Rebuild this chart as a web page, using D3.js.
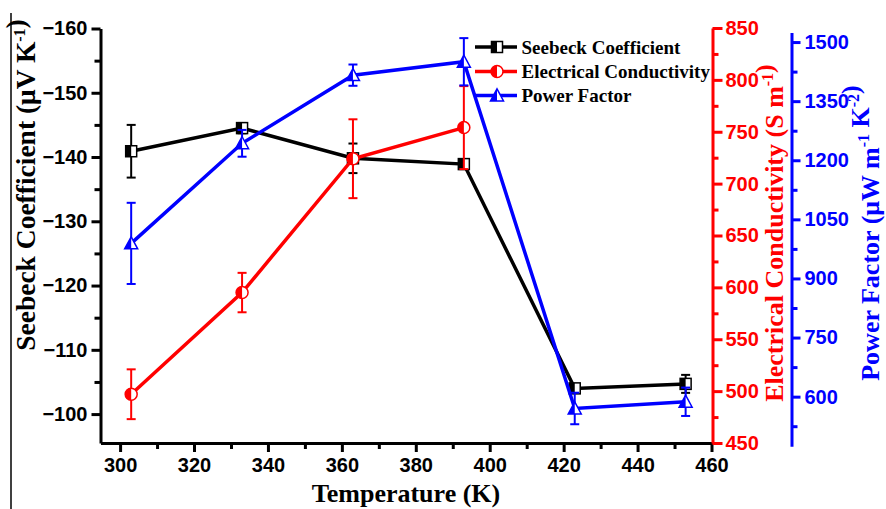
<!DOCTYPE html>
<html><head><meta charset="utf-8">
<script src="https://cdn.jsdelivr.net/npm/d3@7"></script>
<style>
html,body{margin:0;padding:0;background:#fff;}
svg{display:block;}
.tick text{font-family:"Liberation Sans",Arial,sans-serif;font-weight:bold;font-size:20px;}
.title{font-family:"Liberation Serif","Times New Roman",serif;font-weight:bold;font-size:26px;}
.leg{font-family:"Liberation Serif","Times New Roman",serif;font-weight:bold;font-size:19px;}
</style></head>
<body>
<svg id="c" width="886" height="509"></svg>
<script>
// ---- data ----
const temperature = [303, 333, 363, 393, 423, 453];
const seebeck = [-140.9, -144.5, -139.8, -138.9, -104.0, -104.7];
const seebeckErr = [4.1, 0.8, 2.3, 0.6, 0.6, 1.4];
const tempEC = [303, 333, 363, 393];
const conductivity = [497, 595, 724, 754];
const conductivityErr = [24, 19, 38, 40];
const powerFactor = [989, 1243, 1416, 1450, 570, 587];
const powerFactorErr = [103, 34, 27, 60, 40, 36];
const xTicks = [300, 320, 340, 360, 380, 400, 420, 440, 460];
const seebeckTicks = [-160, -150, -140, -130, -120, -110, -100];
const ecTicks = [450, 500, 550, 600, 650, 700, 750, 800, 850];
const pfTicks = [600, 750, 900, 1050, 1200, 1350, 1500];
const legendLabels = ["Seebeck Coefficient", "Electrical Conductivity", "Power Factor"];

const BLACK = "#000000", RED = "#ff0000", BLUE = "#0000ff";
const svg = d3.select("#c");

const x = d3.scaleLinear().domain([294.7, 460]).range([100.5, 711.5]);
const yS = d3.scaleLinear().domain([-160, -95.5]).range([28.5, 443]);
const yE = d3.scaleLinear().domain([850, 450]).range([28, 443]);
const yP = d3.scaleLinear().domain([1524, 474]).range([32.6, 446.3]);
const fmt = d3.format("d");

// stray frame line at far left
svg.append("line").attr("x1", 11).attr("x2", 11).attr("y1", 13).attr("y2", 509)
  .attr("stroke", "#000").attr("stroke-width", 1.5);

function styleAxis(g, color, width) {
  g.selectAll(".domain").attr("stroke", color).attr("stroke-width", width);
  g.selectAll(".tick line").attr("stroke", color).attr("stroke-width", width);
  g.selectAll(".tick text").attr("fill", color);
}

// bottom axis
const minorX = d3.range(310, 460, 20);
svg.append("g").attr("transform", "translate(0,443)")
  .call(d3.axisBottom(x).tickValues(minorX).tickSize(6).tickFormat("").tickSizeOuter(0))
  .call(g => { g.select(".domain").remove(); styleAxis(g, BLACK, 3); });
svg.append("g").attr("transform", "translate(0,443)")
  .call(d3.axisBottom(x).tickValues(xTicks).tickSize(9).tickPadding(4).tickSizeOuter(0).tickFormat(fmt))
  .call(g => { styleAxis(g, BLACK, 3); g.selectAll(".tick text").attr("dy", "0.78em"); });

// left axis
const minorS = d3.range(-155, -100, 10);
svg.append("g").attr("transform", "translate(100.5,0)")
  .call(d3.axisLeft(yS).tickValues(minorS).tickSize(6).tickFormat("").tickSizeOuter(0))
  .call(g => { g.select(".domain").remove(); styleAxis(g, BLACK, 3); });
svg.append("g").attr("transform", "translate(100.5,0)")
  .call(d3.axisLeft(yS).tickValues(seebeckTicks).tickSize(9).tickPadding(4).tickSizeOuter(0).tickFormat(fmt))
  .call(g => styleAxis(g, BLACK, 3));

// red axis
const minorE = d3.range(475, 850, 50);
svg.append("g").attr("transform", "translate(712.5,0)")
  .call(d3.axisRight(yE).tickValues(minorE).tickSize(6).tickFormat("").tickSizeOuter(0))
  .call(g => { g.select(".domain").remove(); styleAxis(g, RED, 3); });
svg.append("g").attr("transform", "translate(712.5,0)")
  .call(d3.axisRight(yE).tickValues(ecTicks).tickSize(10).tickPadding(3).tickSizeOuter(0).tickFormat(fmt))
  .call(g => styleAxis(g, RED, 3));

// blue axis
const minorP = d3.range(525, 1500, 150);
svg.append("g").attr("transform", "translate(791.5,0)")
  .call(d3.axisRight(yP).tickValues(minorP).tickSize(6).tickFormat("").tickSizeOuter(0))
  .call(g => { g.select(".domain").remove(); styleAxis(g, BLUE, 3); });
svg.append("g").attr("transform", "translate(791.5,0)")
  .call(d3.axisRight(yP).tickValues(pfTicks).tickSize(9).tickPadding(4).tickSizeOuter(0).tickFormat(fmt))
  .call(g => styleAxis(g, BLUE, 3));

// titles
function supTitle(parent, parts, color) {
  const t = parent.append("text").attr("class", "title").attr("fill", color).attr("text-anchor", "middle");
  parts.forEach(p => {
    if (p.sup) {
      t.append("tspan").style("font-size", "16px").attr("dy", "-10").text(p.t);
      t.append("tspan").attr("dy", "10").text("");
    } else {
      t.append("tspan").text(p.t);
    }
  });
  return t;
}
supTitle(svg, [{t: "Temperature (K)"}], BLACK).attr("x", 406).attr("y", 502);
supTitle(svg, [{t: "Seebeck Coefficient (μV K"}, {t: "-1", sup: true}, {t: ")"}], BLACK)
  .style("font-size", "27.5px")
  .attr("transform", "translate(35,185) rotate(-90)");
supTitle(svg, [{t: "Electrical Conductivity (S m"}, {t: "-1", sup: true}, {t: ")"}], RED)
  .attr("transform", "translate(783,233) rotate(-90)");
supTitle(svg, [{t: "Power Factor (μW m"}, {t: "-1", sup: true}, {t: " K"}, {t: "-2", sup: true}, {t: ")"}], BLUE)
  .attr("transform", "translate(879,233) rotate(-90)");

// markers
function marker(g, shape, cx, cy, color) {
  const s = 5.5;
  if (shape === "square") {
    g.append("rect").attr("x", cx - s).attr("y", cy - s).attr("width", 2 * s).attr("height", 2 * s).attr("fill", "#fff");
    g.append("rect").attr("x", cx - s).attr("y", cy - s).attr("width", s).attr("height", 2 * s).attr("fill", color);
    g.append("rect").attr("x", cx - s).attr("y", cy - s).attr("width", 2 * s).attr("height", 2 * s)
      .attr("fill", "none").attr("stroke", color).attr("stroke-width", 1.5);
  } else if (shape === "circle") {
    const r = 6;
    g.append("circle").attr("cx", cx).attr("cy", cy).attr("r", r).attr("fill", "#fff");
    g.append("path").attr("d", `M${cx},${cy - r} A${r},${r} 0 0 0 ${cx},${cy + r} Z`).attr("fill", color);
    g.append("circle").attr("cx", cx).attr("cy", cy).attr("r", r).attr("fill", "none").attr("stroke", color).attr("stroke-width", 1.5);
  } else {
    const h = 12, w = 13;
    const top = cy - h * 0.55, bot = cy + h * 0.45;
    g.append("path").attr("d", `M${cx},${top} L${cx - w / 2},${bot} L${cx + w / 2},${bot} Z`).attr("fill", "#fff");
    g.append("path").attr("d", `M${cx},${top} L${cx - w / 2},${bot} L${cx},${bot} Z`).attr("fill", color);
    g.append("path").attr("d", `M${cx},${top} L${cx - w / 2},${bot} L${cx + w / 2},${bot} Z`)
      .attr("fill", "none").attr("stroke", color).attr("stroke-width", 1.5);
  }
}

function series(xs, ys, errs, yScale, color, shape) {
  const g = svg.append("g");
  xs.forEach((t, i) => {
    const cx = x(t), y1 = yScale(ys[i] - errs[i]), y2 = yScale(ys[i] + errs[i]);
    g.append("line").attr("x1", cx).attr("x2", cx).attr("y1", y1).attr("y2", y2).attr("stroke", color).attr("stroke-width", 2);
    [y1, y2].forEach(yy => g.append("line").attr("x1", cx - 4.5).attr("x2", cx + 4.5).attr("y1", yy).attr("y2", yy)
      .attr("stroke", color).attr("stroke-width", 2));
  });
  const line = d3.line().x((d, i) => x(xs[i])).y(d => yScale(d));
  g.append("path").datum(ys).attr("d", line).attr("fill", "none").attr("stroke", color).attr("stroke-width", 3.5);
  xs.forEach((t, i) => marker(g, shape, x(t), yScale(ys[i]), color));
}

series(temperature, seebeck, seebeckErr, yS, BLACK, "square");
series(tempEC, conductivity, conductivityErr, yE, RED, "circle");
series(temperature, powerFactor, powerFactorErr, yP, BLUE, "triangle");

// legend
const legColors = [BLACK, RED, BLUE], legShapes = ["square", "circle", "triangle"], legY = [47, 71.5, 95.5];
legendLabels.forEach((lab, i) => {
  const g = svg.append("g");
  g.append("line").attr("x1", 475).attr("x2", 517).attr("y1", legY[i]).attr("y2", legY[i])
    .attr("stroke", legColors[i]).attr("stroke-width", 3.5);
  marker(g, legShapes[i], 497, legY[i], legColors[i]);
  g.append("text").attr("class", "leg").attr("x", 521.5).attr("y", legY[i]).attr("dy", "0.35em").attr("fill", "#000").text(lab);
});
</script>
</body></html>
